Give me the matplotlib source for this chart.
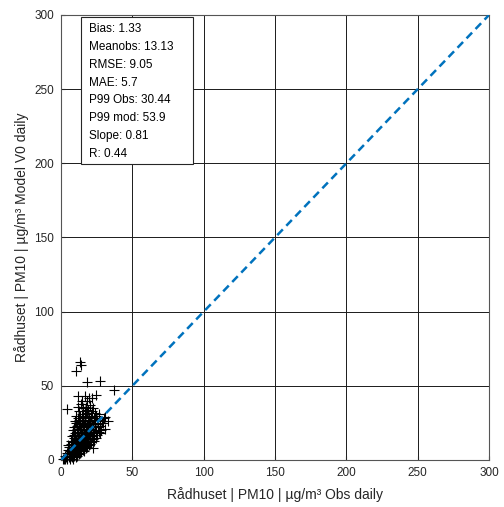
import numpy as np
import matplotlib.pyplot as plt
from matplotlib.patches import Rectangle

# ── Data ──────────────────────────────────────────────────────────────────────
OBS = [1.2, 2.0, 2.8, 3.1, 3.6, 4.2, 4.5, 5.3, 5.0, 4.8, 5.6, 6.1, 6.4, 5.8, 6.7, 6.2,
       7.3, 6.9, 7.6, 7.1, 7.8, 7.4, 8.2, 8.6, 7.9, 8.4, 8.8, 8.1, 8.5,
       9.3, 9.0, 9.6, 9.2, 9.8, 9.4, 9.1, 9.7, 10.2, 10.5, 10.0, 10.8, 10.3, 10.6, 10.1,
       10.9, 10.4, 10.7,
       11.2, 11.5, 11.0, 11.7, 11.3, 11.8, 11.4, 11.1, 11.6, 11.9, 12.3, 12.0, 12.6, 12.2,
       12.8, 12.4, 12.1, 12.7, 12.5, 12.9, 12.2,
       13.4, 13.1, 13.7, 13.0, 13.5, 13.8, 13.2, 13.6, 13.3, 13.9, 14.3, 14.0, 14.6, 14.2,
       14.8, 14.4, 14.1, 14.7, 14.5, 14.9,
       15.2, 15.6, 15.0, 15.7, 15.3, 15.8, 15.4, 15.1, 15.5, 16.3, 16.0, 16.6, 16.2, 16.8,
       16.4, 16.1, 16.7, 16.5, 16.9,
       17.3, 17.0, 17.6, 17.2, 17.8, 17.4, 17.1, 17.7, 17.5, 18.2, 18.6, 18.0, 18.7, 18.3,
       18.8, 18.4, 18.1,
       19.3, 19.0, 19.6, 19.2, 19.8, 19.4, 19.1, 19.7, 20.2, 20.6, 20.0, 20.7, 20.3, 20.8,
       20.4,
       21.2, 21.6, 21.0, 21.7, 21.3, 21.8, 21.4, 22.5, 22.1, 22.6, 22.2, 22.8, 22.4,
       23.3, 23.0, 23.6, 23.2, 23.8,
       24.2, 24.6, 24.0, 24.7, 24.3, 25.2, 25.6, 25.0, 26.3, 26.0, 26.6,
       27.2, 27.6, 28.1, 28.5, 29.3, 30.8, 30.3, 31.0, 33.0, 36.9, 18.4, 27.6, 13.5, 13.8,
       10.7, 4.4]
MOD = [0.5, 1.0, 3.0, 1, 2, 5, 1, 3, 7, 10, 2, 4, 6, 9, 13, 1,
       3, 5, 8, 11, 16, 2, 4, 6, 9, 12, 15, 20, 0.5,
       3, 5, 7, 10, 13, 17, 22, 26, 2, 4, 6, 8, 11, 14, 18,
       21, 25, 30,
       3, 5, 7, 9, 12, 15, 19, 23, 28, 36, 4, 6, 8, 10,
       13, 16, 20, 24, 27, 33, 43,
       5, 7, 9, 11, 14, 17, 21, 25, 30, 38, 6, 8, 10, 12,
       15, 18, 22, 26, 31, 40,
       7, 9, 11, 13, 16, 19, 23, 28, 35, 6, 8, 10, 14, 17,
       20, 24, 29, 33, 43,
       8, 11, 13, 15, 18, 22, 26, 31, 36, 9, 12, 16, 19, 23,
       27, 32, 40,
       10, 13, 17, 21, 25, 29, 34, 42, 11, 14, 18, 22, 26, 30,
       37,
       12, 16, 20, 24, 29, 33, 42, 8, 14, 19, 23, 28, 35,
       13, 18, 22, 27, 32,
       15, 20, 25, 30, 44, 17, 22, 27, 19, 24, 31,
       18, 23, 20, 26, 25, 21, 28.5, 29, 26, 47.2, 52.4, 53.5, 66.3, 64.2,
       60.2, 34.4]

STATS = ['Bias: 1.33', 'Meanobs: 13.13', 'RMSE: 9.05', 'MAE: 5.7',
         'P99 Obs: 30.44', 'P99 mod: 53.9', 'Slope: 0.81', 'R: 0.44']
TICKS = [0, 50, 100, 150, 200, 250, 300]

plt.rcParams['font.family'] = ['Liberation Sans', 'DejaVu Sans']

fig = plt.figure(figsize=(5.04, 5.07), dpi=100)
ax = fig.add_axes([61 / 504, 47 / 507, 428 / 504, 445 / 507])

ax.plot(OBS, MOD, linestyle='none', marker='+', color='black',
        markersize=7, markeredgewidth=0.8, clip_on=False, zorder=3)
ax.plot([TICKS[0], TICKS[-1]], [TICKS[0], TICKS[-1]], color='#0072BD',
        linewidth=1.8, dashes=(3.2, 2.0), zorder=4)

ax.set_xlim(0, 300)
ax.set_ylim(0, 300)
ax.set_xticks(TICKS)
ax.set_yticks(TICKS)
ax.tick_params(direction='in', length=3, labelsize=8.5, colors='#262626',
               pad=5)
ax.grid(True, color='#1a1a1a', linewidth=0.7)
for s in ax.spines.values():
    s.set_color('#555555')
    s.set_linewidth(0.8)

ax.set_xlabel('Rådhuset | PM10 | µg/m³ Obs daily', fontsize=10,
              color='#262626', labelpad=6)
ax.set_ylabel('Rådhuset | PM10 | µg/m³ Model V0 daily', fontsize=10,
              color='#262626', labelpad=4)

# stats box (axes coords)
ax.add_patch(Rectangle((0.0467, 0.665), 0.2617, 0.3305, transform=ax.transAxes,
                       facecolor='white', edgecolor='#262626', linewidth=0.8,
                       zorder=5))
ax.text(0.0654, 0.9815, '\n'.join(STATS), transform=ax.transAxes, fontsize=8.5,
        va='top', ha='left', linespacing=1.64, zorder=6)

fig.savefig('out.png', dpi=100)
